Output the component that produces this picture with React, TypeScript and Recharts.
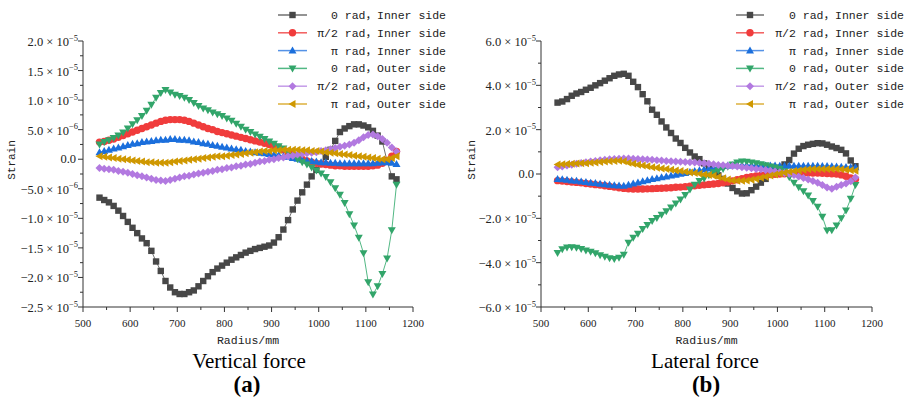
import React from "react";
import { LineChart, Line, XAxis, YAxis } from "recharts";

// radius positions (mm)
const radius = [
  535, 545, 555, 565, 575, 585, 595, 605,
  615, 625, 635, 645, 655, 665, 675, 685,
  695, 705, 715, 725, 735, 745, 755, 765,
  775, 785, 795, 805, 815, 825, 835, 845,
  855, 865, 875, 885, 895, 905, 915, 925,
  935, 945, 955, 965, 975, 985, 995, 1005,
  1015, 1025, 1035, 1045, 1055, 1065, 1075, 1085,
  1095, 1105, 1115, 1125, 1135, 1145, 1155, 1165,
];

// Vertical force, strain in units of 1e-6
const vInner0 = [
  -6.5, -6.9, -7.3, -7.9, -8.7, -9.6, -10.6, -11.6,
  -12.5, -13.4, -14.2, -15.5, -17.3, -18.9, -20.6, -21.7,
  -22.5, -22.8, -22.8, -22.5, -22.2, -21.5, -20.6, -19.8,
  -19.1, -18.5, -18.0, -17.5, -17.0, -16.6, -16.2, -15.8,
  -15.5, -15.2, -15.0, -14.8, -14.6, -14.1, -13.2, -11.9,
  -10.3, -8.5, -7.0, -5.6, -4.3, -2.9, -1.8, -0.8,
  0.4, 1.6, 3.1, 4.6, 5.2, 5.6, 5.9, 5.9,
  5.7, 5.4, 4.8, 4.0, 3.0, -0.3, -2.9, -3.4,
];
const vInnerHalfPi = [
  2.9, 3.0, 3.2, 3.4, 3.7, 4.0, 4.3, 4.6,
  4.9, 5.2, 5.5, 5.8, 6.1, 6.4, 6.6, 6.7,
  6.7, 6.7, 6.6, 6.4, 6.1, 5.8, 5.5, 5.2,
  5.0, 4.7, 4.5, 4.3, 4.1, 3.9, 3.7, 3.5,
  3.3, 3.1, 2.9, 2.7, 2.5, 2.3, 2.0, 1.6,
  1.2, 0.8, 0.4, 0.0, -0.3, -0.5, -0.7, -0.8,
  -0.9, -1.0, -1.1, -1.1, -1.2, -1.2, -1.2, -1.2,
  -1.2, -1.2, -1.1, -1.0, -0.7, -0.2, 0.5, 1.3,
];
const vInnerPi = [
  1.2, 1.4, 1.6, 1.8, 2.0, 2.2, 2.4, 2.6,
  2.7, 2.9, 3.0, 3.1, 3.2, 3.3, 3.3, 3.4,
  3.4, 3.3, 3.3, 3.2, 3.0, 2.9, 2.7, 2.6,
  2.4, 2.3, 2.1, 2.0, 1.8, 1.7, 1.6, 1.4,
  1.3, 1.2, 1.1, 1.0, 0.9, 0.8, 0.7, 0.5,
  0.4, 0.2, 0.1, -0.1, -0.2, -0.3, -0.4, -0.5,
  -0.5, -0.6, -0.6, -0.7, -0.7, -0.7, -0.7, -0.7,
  -0.7, -0.7, -0.7, -0.6, -0.5, -0.5, -0.6, -0.8,
];
const vOuter0 = [
  2.5, 2.9, 3.2, 3.6, 4.0, 4.5, 5.2, 5.9,
  6.6, 7.3, 8.2, 9.2, 10.4, 11.2, 11.7, 11.3,
  10.9, 10.7, 10.4, 10.0, 9.5, 9.0, 8.6, 8.3,
  7.9, 7.6, 7.3, 6.9, 6.5, 6.0, 5.5, 5.0,
  4.6, 4.2, 3.8, 3.4, 3.0, 2.6, 2.2, 1.8,
  1.2, 0.6, 0.0, -0.5, -0.9, -1.4, -1.9, -2.4,
  -3.0, -3.9, -4.9, -6.0, -7.4, -9.3, -11.2, -13.3,
  -15.9, -20.8, -22.9, -21.5, -19.4, -16.8, -12.0, -4.3,
];
const vOuterHalfPi = [
  -1.5, -1.6, -1.7, -1.8, -2.0, -2.1, -2.3, -2.5,
  -2.7, -2.9, -3.1, -3.3, -3.5, -3.6, -3.7, -3.5,
  -3.3, -3.1, -2.9, -2.8, -2.6, -2.4, -2.3, -2.1,
  -2.0, -1.8, -1.7, -1.5, -1.4, -1.2, -1.1, -0.9,
  -0.8, -0.6, -0.4, -0.3, -0.1, 0.0, 0.2, 0.3,
  0.5, 0.6, 0.8, 0.9, 1.0, 1.1, 1.2, 1.4,
  1.5, 1.7, 1.9, 2.1, 2.3, 2.5, 2.8, 3.2,
  3.7, 4.1, 4.2, 3.9, 3.4, 2.8, 2.0, 1.3,
];
const vOuterPi = [
  0.5, 0.4, 0.3, 0.2, 0.1, 0.0, -0.1, -0.2,
  -0.3, -0.4, -0.5, -0.5, -0.6, -0.6, -0.6, -0.5,
  -0.4, -0.3, -0.2, -0.1, 0.0, 0.1, 0.2, 0.3,
  0.4, 0.5, 0.5, 0.6, 0.7, 0.8, 0.9, 1.0,
  1.1, 1.2, 1.3, 1.4, 1.4, 1.5, 1.5, 1.6,
  1.6, 1.6, 1.6, 1.5, 1.5, 1.4, 1.4, 1.3,
  1.2, 1.1, 1.0, 0.9, 0.8, 0.7, 0.6, 0.5,
  0.4, 0.3, 0.2, 0.1, 0.0, 0.0, 0.2, 0.5,
];

// Lateral force, strain in units of 1e-6
const lInner0 = [
  32.2, 32.7, 33.8, 35.3, 36.3, 37.0, 38.0, 38.9,
  40.0, 41.0, 42.1, 43.2, 44.3, 44.9, 45.2, 44.3,
  41.6, 39.2, 36.0, 32.8, 29.0, 26.7, 23.7, 21.0,
  18.5, 16.0, 14.0, 11.8, 9.7, 7.9, 6.7, 4.8,
  3.0, 1.0, -0.6, -2.2, -4.3, -6.3, -7.8, -8.8,
  -8.7, -7.3, -5.7, -3.9, -2.2, -0.3, 1.4, 2.8,
  4.3, 6.3, 9.2, 11.4, 12.6, 13.2, 13.6, 13.9,
  13.8, 13.2, 12.4, 11.7, 10.9, 9.3, 6.1, 3.5,
];
const lInnerHalfPi = [
  -3.0, -3.2, -3.4, -3.6, -3.8, -4.0, -4.3, -4.5,
  -4.8, -5.0, -5.3, -5.6, -5.9, -6.2, -6.5, -6.7,
  -6.8, -6.8, -6.8, -6.7, -6.6, -6.5, -6.4, -6.3,
  -6.2, -6.0, -5.9, -5.7, -5.5, -5.3, -5.1, -4.9,
  -4.7, -4.5, -4.3, -4.0, -3.6, -3.1, -2.6, -2.1,
  -1.6, -1.2, -0.9, -0.6, -0.4, -0.2, -0.1, 0.0,
  0.1, 0.2, 0.3, 0.3, 0.4, 0.4, 0.4, 0.4,
  0.3, 0.2, 0.1, 0.0, -0.4, -1.0, -1.8, -2.4,
];
const lInnerPi = [
  -2.2, -2.4, -2.6, -2.9, -3.1, -3.4, -3.6, -3.9,
  -4.1, -4.4, -4.6, -4.9, -5.1, -5.2, -5.3, -4.8,
  -4.3, -3.8, -3.3, -2.8, -2.3, -1.9, -1.5, -1.1,
  -0.7, -0.3, 0.1, 0.5, 0.9, 1.3, 1.7, 2.1,
  2.5, 2.9, 3.3, 3.6, 3.8, 3.9, 4.0, 4.0,
  4.0, 4.0, 3.9, 3.9, 3.8, 3.8, 3.8, 3.7,
  3.7, 3.7, 3.7, 3.7, 3.7, 3.7, 3.7, 3.7,
  3.6, 3.6, 3.5, 3.4, 3.3, 3.2, 3.1, 3.0,
];
const lOuter0 = [
  -35.6, -33.9, -33.2, -33.0, -33.3, -33.8, -34.5, -35.1,
  -35.8, -36.6, -37.3, -38.0, -38.3, -37.8, -36.4, -31.0,
  -28.8, -27.0, -24.8, -23.0, -21.2, -19.8, -18.4, -16.8,
  -15.1, -13.3, -11.5, -9.5, -7.0, -4.8, -3.2, -2.0,
  -0.6, 0.8, 1.6, 2.3, 3.3, 4.3, 5.2, 5.6,
  5.5, 5.2, 4.8, 4.4, 3.9, 3.4, 2.9, 2.4,
  1.2, -1.5, -4.0, -6.0, -7.8, -9.7, -12.2, -14.8,
  -19.3, -25.5, -25.4, -23.2, -20.0, -16.5, -11.2, -5.0,
];
const lOuterHalfPi = [
  3.0, 3.4, 3.8, 4.2, 4.6, 5.0, 5.3, 5.6,
  5.9, 6.2, 6.4, 6.6, 6.8, 6.9, 7.0, 7.0,
  6.9, 6.8, 6.7, 6.5, 6.4, 6.2, 6.1, 5.9,
  5.8, 5.6, 5.5, 5.4, 5.3, 5.2, 5.0, 4.8,
  4.6, 4.4, 4.1, 3.9, 3.7, 3.6, 3.4, 3.1,
  2.8, 2.6, 2.3, 2.1, 1.8, 1.5, 1.1, 0.8,
  0.5, 0.0, -0.5, -1.1, -1.8, -2.5, -3.2, -4.0,
  -5.0, -6.1, -6.7, -5.8, -5.0, -4.3, -3.3, -1.6,
];
const lOuterPi = [
  4.3, 4.4, 4.5, 4.6, 4.7, 4.8, 4.9, 5.1,
  5.2, 5.4, 5.6, 5.8, 5.9, 6.0, 5.8, 5.1,
  4.6, 4.2, 3.8, 3.5, 3.1, 2.8, 2.5, 2.2,
  1.9, 1.6, 1.3, 1.0, 0.7, 0.4, 0.1, -0.2,
  -0.5, -0.8, -1.3, -1.9, -2.5, -2.9, -3.0, -3.0,
  -2.9, -2.6, -2.2, -1.7, -1.2, -0.7, -0.2, 0.2,
  0.6, 1.0, 1.3, 1.6, 1.9, 2.1, 2.2, 2.3,
  2.3, 2.3, 2.3, 2.2, 2.1, 1.9, 1.7, 1.5,
];

const seriesNames = [
  "0 rad，Inner side",
  "π/2 rad，Inner side",
  "π rad，Inner side",
  "0 rad，Outer side",
  "π/2 rad，Outer side",
  "π rad，Outer side",
];

const xTicks = [500, 550, 600, 650, 700, 750, 800, 850, 900, 950, 1000, 1050, 1100, 1150, 1200];
const vTicks = [-25, -22.5, -20, -17.5, -15, -12.5, -10, -7.5, -5, -2.5, 0, 2.5, 5, 7.5, 10, 12.5, 15, 17.5, 20];
const lTicks = [-60, -50, -40, -30, -20, -10, 0, 10, 20, 30, 40, 50, 60];

const AXIS = "#333";
const TEXT = "#222";
const SERIF = "'Liberation Serif', 'Times New Roman', serif";
const MONO = "'Liberation Mono', 'Noto Sans CJK SC', monospace";

const looks = [
  { shape: "square", marker: "#474747", line: "#707070" },
  { shape: "circle", marker: "#f03c3c", line: "#f35d5d" },
  { shape: "up", marker: "#1b6fdc", line: "#5592e6" },
  { shape: "down", marker: "#32a56a", line: "#52b884" },
  { shape: "diamond", marker: "#b279e0", line: "#c49be8" },
  { shape: "left", marker: "#cf9800", line: "#ddb13d" },
];

function toRows(cols: number[][]) {
  return radius.map((r, i) => {
    const row: Record<string, number> = { r };
    cols.forEach((c, k) => (row["s" + k] = c[i]));
    return row;
  });
}

const verticalData = toRows([vInner0, vInnerHalfPi, vInnerPi, vOuter0, vOuterHalfPi, vOuterPi]);
const lateralData = toRows([lInner0, lInnerHalfPi, lInnerPi, lOuter0, lOuterHalfPi, lOuterPi]);

function Marker({ shape, cx, cy, color }: { shape: string; cx: number; cy: number; color: string }) {
  const a = 4;
  switch (shape) {
    case "square":
      return <rect x={cx - 3.2} y={cy - 3.2} width={6.4} height={6.4} fill={color} />;
    case "circle":
      return <circle cx={cx} cy={cy} r={3.7} fill={color} />;
    case "up":
      return <polygon points={`${cx},${cy - a} ${cx - a},${cy + 3} ${cx + a},${cy + 3}`} fill={color} />;
    case "down":
      return <polygon points={`${cx},${cy + a} ${cx - a},${cy - 3} ${cx + a},${cy - 3}`} fill={color} />;
    case "diamond":
      return <polygon points={`${cx},${cy - a} ${cx + a},${cy} ${cx},${cy + a} ${cx - a},${cy}`} fill={color} />;
    default:
      return <polygon points={`${cx - a},${cy} ${cx + 3},${cy - a} ${cx + 3},${cy + a}`} fill={color} />;
  }
}

function XTick(props: any) {
  const { x, y, payload } = props;
  const v = payload.value;
  const major = v % 100 === 0;
  return (
    <g>
      <line x1={x} x2={x} y1={y} y2={y + (major ? 5 : 3)} stroke={AXIS} />
      {major && (
        <text x={x} y={y + 20} textAnchor="middle" fontFamily={SERIF} fontSize={11} fill={TEXT}>
          {v}
        </text>
      )}
    </g>
  );
}

function YTick(props: any) {
  const { x, y, payload, step } = props;
  const v = payload.value;
  const major = Math.abs(v % step) < 1e-6;
  let label: React.ReactNode = null;
  if (major) {
    if (v === 0) {
      label = (
        <text x={x - 7} y={y + 4} textAnchor="end" fontFamily={SERIF} fontSize={12.5} fill={TEXT}>
          0.0
        </text>
      );
    } else {
      const val = v * 1e-6;
      const e = Math.floor(Math.log10(Math.abs(val)) + 1e-9);
      const m = (val / Math.pow(10, e)).toFixed(1).replace("-", "−");
      label = (
        <text x={x - 5} y={y + 5} textAnchor="end" fontFamily={SERIF} fontSize={12.5} fill={TEXT}>
          {m} × 10
          <tspan dy={-5.5} fontSize={8.5}>
            {"−" + Math.abs(e)}
          </tspan>
        </text>
      );
    }
  }
  return (
    <g>
      <line x1={x - (major ? 5 : 3)} x2={x} y1={y} y2={y} stroke={AXIS} />
      {label}
    </g>
  );
}

function StrainPanel({
  data,
  domain,
  ticks,
  step,
  marginLeft,
  marginRight,
  strainDx,
}: {
  data: Record<string, number>[];
  domain: [number, number];
  ticks: number[];
  step: number;
  marginLeft: number;
  marginRight: number;
  strainDx: number;
}) {
  return (
    <LineChart
      width={452}
      height={404}
      data={data}
      margin={{ top: 41, right: marginRight, bottom: 57, left: marginLeft }}
    >
      <XAxis
        dataKey="r"
        type="number"
        domain={[500, 1200]}
        ticks={xTicks}
        interval={0}
        height={40}
        tickSize={0}
        tickMargin={0}
        tickLine={false}
        axisLine={{ stroke: AXIS }}
        tick={(p: any) => <XTick {...p} />}
        label={{
          content: (p: any) => {
            const vb = p.viewBox || { x: 0, y: 0, width: 0, height: 0 };
            return (
              <text
                x={vb.x + vb.width / 2}
                y={vb.y + 37}
                textAnchor="middle"
                fontFamily={MONO}
                fontSize={11.5}
                fill={TEXT}
              >
                Radius/mm
              </text>
            );
          },
        }}
      />
      <YAxis
        type="number"
        domain={domain}
        ticks={ticks}
        interval={0}
        width={80}
        tickSize={0}
        tickMargin={0}
        tickLine={false}
        axisLine={{ stroke: AXIS }}
        tick={(p: any) => <YTick {...p} step={step} />}
        label={{
          content: (p: any) => {
            const vb = p.viewBox || { x: 0, y: 0, width: 0, height: 0 };
            const cx = vb.x + strainDx;
            const cy = vb.y + vb.height / 2 - 14;
            return (
              <text
                x={cx}
                y={cy}
                transform={`rotate(-90 ${cx} ${cy})`}
                textAnchor="middle"
                dominantBaseline="central"
                fontFamily={MONO}
                fontSize={11}
                fill={TEXT}
              >
                Strain
              </text>
            );
          },
        }}
      />
      {looks.map((s, k) => (
        <Line
          key={k}
          dataKey={"s" + k}
          type="linear"
          stroke={s.line}
          strokeWidth={1}
          dot={(p: any) => (
            <Marker key={`d${k}-${p.index}`} shape={s.shape} cx={p.cx} cy={p.cy} color={s.marker} />
          )}
          activeDot={false}
          isAnimationActive={false}
        />
      ))}
    </LineChart>
  );
}

function LegendBlock({ x0, x1, textEnd, top }: { x0: number; x1: number; textEnd: number; top: number }) {
  return (
    <g>
      {seriesNames.map((name, k) => {
        const y = top + k * 17.8;
        const s = looks[k];
        return (
          <g key={k}>
            <line x1={x0} x2={x1} y1={y} y2={y} stroke={s.line} strokeWidth={1.5} />
            <Marker shape={s.shape} cx={(x0 + x1) / 2} cy={y} color={s.marker} />
            <text x={textEnd} y={y + 4} textAnchor="end" fontFamily={MONO} fontSize={11.5} fill={TEXT}>
              {name}
            </text>
          </g>
        );
      })}
    </g>
  );
}

export default function App() {
  return (
    <div style={{ position: "absolute", left: 0, top: 0, width: 904, height: 404, background: "#fff", overflow: "hidden" }}>
      <div style={{ position: "absolute", left: 0, top: 0 }}>
        <StrainPanel
          data={verticalData}
          domain={[-25, 20]}
          ticks={vTicks}
          step={5}
          marginLeft={3}
          marginRight={39}
          strainDx={9}
        />
      </div>
      <div style={{ position: "absolute", left: 452, top: 0 }}>
        <StrainPanel
          data={lateralData}
          domain={[-60, 60]}
          ticks={lTicks}
          step={20}
          marginLeft={9}
          marginRight={32}
          strainDx={11}
        />
      </div>
      <svg width={904} height={404} style={{ position: "absolute", left: 0, top: 0, pointerEvents: "none" }}>
        <LegendBlock x0={278} x1={307} textEnd={446} top={15} />
        <LegendBlock x0={736} x1={764} textEnd={904} top={15} />
        <text x={249} y={368} textAnchor="middle" fontFamily={SERIF} fontSize={21} fill="#000">
          Vertical force
        </text>
        <text x={247} y={392} textAnchor="middle" fontFamily={SERIF} fontSize={23} fontWeight="bold" fill="#000">
          (a)
        </text>
        <text x={705} y={368} textAnchor="middle" fontFamily={SERIF} fontSize={21} fill="#000">
          Lateral force
        </text>
        <text x={706} y={392} textAnchor="middle" fontFamily={SERIF} fontSize={23} fontWeight="bold" fill="#000">
          (b)
        </text>
      </svg>
    </div>
  );
}
